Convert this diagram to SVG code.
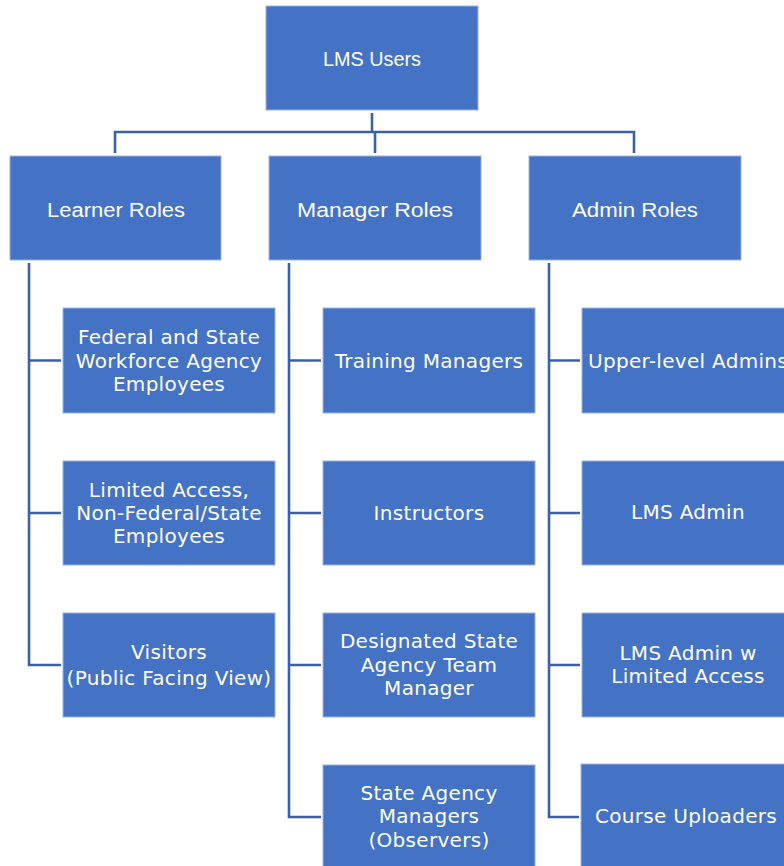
<svg xmlns="http://www.w3.org/2000/svg" width="784" height="866" viewBox="0 0 784 866">
<style>
.box{fill:#4472C4;stroke:#9DB3E0;stroke-width:1}
.c{fill:none;stroke:#3A60A9;stroke-width:2.6}
.t{font-family:"DejaVu Sans","Liberation Sans",sans-serif;font-size:20px;letter-spacing:0.3px;fill:#FFFFFF;text-anchor:middle}
.h{font-family:"Liberation Sans","DejaVu Sans",sans-serif;font-size:20px;fill:#FFFFFF;text-anchor:middle}
</style>
<rect width="784" height="866" fill="#FFFFFF"/>
<g id="connectors">
<path class="c" d="M372,113 V132 M115,153 V132 H634 V153 M375,132 V153"/>
<path class="c" d="M29,263 V665 H61 M29,360.5 H61 M29,513 H61"/>
<path class="c" d="M289,263 V817 H321 M289,360.5 H321 M289,513 H321 M289,665 H321"/>
<path class="c" d="M549,263 V817 H579 M549,360.5 H580 M549,513 H580 M549,665 H580"/>
</g>
<g id="lms-users"><rect class="box" x="266" y="6" width="212" height="104"/><text class="h" x="372" y="65.5" textLength="98" lengthAdjust="spacingAndGlyphs">LMS Users</text></g>
<g id="learner-roles"><rect class="box" x="10" y="156" width="211" height="104"/><text class="h" x="116" y="216.5" textLength="138" lengthAdjust="spacingAndGlyphs">Learner Roles</text></g>
<g id="manager-roles"><rect class="box" x="269" y="156" width="212" height="104"/><text class="h" x="375" y="216.5" textLength="156" lengthAdjust="spacingAndGlyphs">Manager Roles</text></g>
<g id="admin-roles"><rect class="box" x="529" y="156" width="212" height="104"/><text class="h" x="635" y="216.5" textLength="126" lengthAdjust="spacingAndGlyphs">Admin Roles</text></g>

<g id="federal-state"><rect class="box" x="63" y="308" width="212" height="105"/><text class="t" x="169" y="344.3">Federal and State</text><text class="t" x="169" y="368">Workforce Agency</text><text class="t" x="169" y="391">Employees</text></g>
<g id="limited-access"><rect class="box" x="63" y="461" width="212" height="104"/><text class="t" x="169" y="496.7">Limited Access,</text><text class="t" x="169" y="520">Non-Federal/State</text><text class="t" x="169" y="543.3">Employees</text></g>
<g id="visitors"><rect class="box" x="63" y="613" width="212" height="104"/><text class="t" x="169" y="659">Visitors</text><text class="t" x="169" y="685">(Public Facing View)</text></g>

<g id="training-managers"><rect class="box" x="323" y="308" width="212" height="105"/><text class="t" x="429" y="367.5">Training Managers</text></g>
<g id="instructors"><rect class="box" x="323" y="461" width="212" height="104"/><text class="t" x="429" y="519.5">Instructors</text></g>
<g id="designated-manager"><rect class="box" x="323" y="613" width="212" height="104"/><text class="t" x="429" y="648.3">Designated State</text><text class="t" x="429" y="671.7">Agency Team</text><text class="t" x="429" y="695">Manager</text></g>
<g id="state-agency-managers"><rect class="box" x="323" y="765" width="212" height="104"/><text class="t" x="429" y="800">State Agency</text><text class="t" x="429" y="823.3">Managers</text><text class="t" x="429" y="846.7">(Observers)</text></g>

<g id="upper-level-admins"><rect class="box" x="582" y="308" width="212" height="105"/><text class="t" x="688" y="368.3">Upper-level Admins</text></g>
<g id="lms-admin"><rect class="box" x="582" y="461" width="212" height="104"/><text class="t" x="688" y="519.3">LMS Admin</text></g>
<g id="lms-admin-limited"><rect class="box" x="582" y="613" width="212" height="104"/><text class="t" x="688" y="660">LMS Admin w</text><text class="t" x="688" y="683.3">Limited Access</text></g>
<g id="course-uploaders"><rect class="box" x="581" y="764" width="212" height="105"/><text class="t" x="686" y="823.3">Course Uploaders</text></g>
</svg>
